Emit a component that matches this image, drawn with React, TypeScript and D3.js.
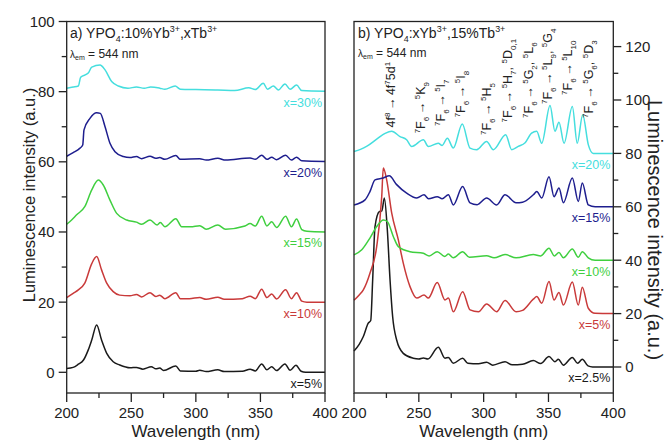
import React from "react";
import * as d3 from "d3";

type P = [number, number];

// ---------- Panel a: YPO4:10%Yb,xTb ----------
const a5: P[] = [[200,1.1],[205,1.4],[209,2.3],[213,3.5],[216.7,6.4],[219.4,9.2],[223.2,13.5],[227,9.2],[231,5.4],[236,3],[241,2.1],[249,1.3],[254,1.4],[259,0.9],[265.5,1.6],[269,1.0],[272,1.2],[275,0.5],[284.5,1.8],[288,0.4],[300,0.3],[303,0.6],[308,0.2],[317,0.7],[322,0.2],[336,0.3],[342,0.9],[346,0.4],[351,2.4],[355,0.7],[358.7,1.6],[362.5,0.5],[369,2.4],[373,0.6],[377.5,2],[381.5,0.3],[385,0],[400,0]];
const a10: P[] = [[200,21.3],[205,22.5],[209,23.5],[214,25.4],[219.4,31],[223.2,33],[227,29.2],[231,25.4],[236,23],[241,22],[249,21.8],[254,22.2],[258,21.5],[264.5,22.7],[269,21.6],[272,22],[276,21],[284.5,22.7],[288,21],[295,21],[303,21.3],[308,20.8],[317,21.4],[322,20.8],[336,21],[342,21.7],[346,21],[351,23.7],[355,21.3],[358.7,22.3],[362.5,20.9],[369.5,23.5],[374,21],[378,22.7],[382,20.3],[386,20],[400,20]];
const a15: P[] = [[200,42.2],[204,43.5],[207.7,44.9],[214,47.2],[219.4,52],[224.5,54.8],[228.3,53.4],[233.5,49.1],[238.7,45.3],[246.5,43.4],[254,42.8],[258,42.2],[264.5,43.4],[270,42],[272.5,42.7],[276,41.5],[284.5,43.8],[289,41.5],[296,41.5],[303,41.8],[308,40.8],[317,42],[323,40.8],[338,41.7],[342,42.4],[346,41.7],[351,44.5],[355,41.7],[358.7,42.9],[362.5,41.3],[369.5,44.5],[374,41.5],[378,43.7],[382,40.7],[386,40.2],[400,40]];
const a20: P[] = [[200,61.6],[205,62.6],[210.3,63.9],[212.4,64.8],[213.4,69.1],[218,72.4],[223.2,74],[226,73.8],[229.7,70],[233.5,65.3],[237.4,62.9],[243.8,61.5],[249,61.2],[254,61.5],[258,60.9],[264.5,61.6],[269,61],[272,61.2],[276,60.7],[284.5,61.8],[288,60.7],[303,60.9],[308,60.5],[317,61],[323,60.5],[342,61.1],[346,60.7],[351,61.9],[355,60.7],[358.7,61.3],[362.5,60.6],[369.5,61.9],[374,60.5],[378,61.3],[382,60.3],[400,60.1]];
const a30: P[] = [[200,81],[205,81.3],[209,81.6],[210.8,84.1],[216.7,85.3],[219.4,87],[225.8,87.6],[229.7,86.2],[234.8,82.9],[240,81.6],[247.4,81],[254,81.3],[260,81],[265,81.3],[272,81],[276,80.7],[284,81.6],[288,80.7],[300,80.6],[317,80.5],[330,80.3],[341,81.1],[346,80.6],[352.2,82.4],[355.5,80.7],[360,81.6],[364,80.5],[369,82.2],[373,80.7],[378,81.9],[382,80.3],[400,80.1]];

// ---------- Panel b: YPO4:xYb,15%Tb ----------
const b25: P[] = [[200,6],[204,8.5],[207.2,11.4],[211,16.4],[212.9,17.4],[214.4,32.6],[216.2,52.6],[219.5,58.2],[221.5,58.5],[223.4,63.3],[225.7,51.4],[227.8,32.6],[229.8,18.9],[232.9,10.1],[238,5.1],[245.7,3.3],[250,3.0],[253.5,3.4],[257,3.0],[265,7.4],[270.2,3.3],[272.8,3.6],[276.6,1.4],[283.8,3.3],[287.8,1.4],[296,1.2],[302.3,1.8],[307,0.7],[316.5,2],[322,0.8],[330,1],[338.3,2.4],[344,1.3],[350.4,3.9],[355,2],[357.6,2.9],[361.5,0.7],[368.4,3.6],[372.5,1.4],[376.1,2.9],[380.5,0.4],[384,0],[400,0]];
const b5: P[] = [[200,25],[204,27],[207.2,28.9],[212.3,35.1],[217.5,45.1],[221.4,63.9],[222.6,74.5],[225.2,70.1],[229.1,57.6],[234.2,47.6],[238,38.9],[243.2,30.1],[248.4,25.8],[254,27],[257.3,25.8],[264.2,31.6],[270.2,25.1],[272.8,25.8],[276.6,20.7],[283.8,28.2],[289.5,21.4],[296,20.7],[302.3,23.6],[310,20.7],[316.5,24.9],[325,20.7],[330,21.2],[338.3,25.4],[341,26.4],[344.8,23.9],[350.4,32],[354.3,25.1],[358.1,27.9],[361.5,23.2],[368.4,31.8],[373,23.2],[376.1,29.9],[380.7,22],[385.9,20.1],[400,20]];
const b10: P[] = [[200,42],[206,43.9],[212.3,48.3],[217.5,52.6],[222.6,55.1],[225.7,54.5],[230.3,48.9],[234.2,45.1],[243.2,43.2],[253.5,42.6],[258,41.6],[264.2,43.2],[270,41.4],[272.8,42.3],[276.6,40.9],[283.8,43.2],[289,41.1],[302.3,41.7],[308,40.9],[316.5,42.1],[325,40.9],[338.3,42.1],[344,41.6],[350.4,44.5],[354.5,41.6],[358.1,42.9],[361.5,40.9],[368.4,44.2],[373,41.1],[376.1,43.2],[380.7,40.9],[386,40],[400,40]];
const b15: P[] = [[200,60.7],[208.5,62.6],[212.3,65.7],[216.2,70.1],[222.6,70.8],[227.2,71.6],[232.9,68.3],[240.6,65.1],[248.4,63.3],[254,64.5],[257.5,63],[264.2,63.8],[268,63],[272.8,64.5],[276.6,60.7],[283.8,67.6],[289.5,61.5],[295,60.8],[302.3,63.3],[310,60.7],[316.5,64.5],[325,61.5],[330,61.7],[338.3,64.5],[341,65.7],[344.8,63.3],[350.4,71.3],[354.3,63.8],[358.1,67],[361.5,61.5],[368.4,70.8],[373,62],[376.1,68.9],[380.7,60.7],[386,60],[400,60]];
const b20: P[] = [[200,80.7],[205,81.5],[210,82.7],[218,85.5],[224,87.5],[229.1,88.3],[235.5,86.3],[240.6,85.1],[244.5,82.6],[253.5,85.1],[257.3,82.6],[265,83.8],[268,83],[272,85.7],[276.6,82],[283.5,91],[289.5,82],[294.6,81.4],[302.3,84.5],[307.5,81.4],[317,87],[321.6,81.4],[326.7,82.6],[332,84],[337,87.6],[340.9,88.3],[344.8,83.8],[351.2,97.9],[355,88.3],[358.1,91.7],[362,83.8],[368.4,97.6],[372.2,83.8],[376.4,94.5],[380.7,83.3],[384.6,80],[400,80]];

const leftSeries = [a5, a10, a15, a20, a30];
const leftLabels = ["x=5%", "x=10%", "x=15%", "x=20%", "x=30%"];
const leftBase = [0, 20, 40, 60, 80];
const rightSeries = [b25, b5, b10, b15, b20];
const rightLabels = ["x=2.5%", "x=5%", "x=10%", "x=15%", "x=20%"];
const rightBase = [0, 20, 40, 60, 80];
const seriesColors = ["#1a1a1a", "#c93a3a", "#3fcf3f", "#1e1e8e", "#45dede"];

const xTicks = [200, 250, 300, 350, 400];
const xMinor = [225, 275, 325, 375];
const leftYTicks = [0, 20, 40, 60, 80, 100];
const leftYMinor = [10, 30, 50, 70, 90];
const rightYTicks = [0, 20, 40, 60, 80, 100, 120];
const rightYMinor = [10, 30, 50, 70, 90, 110];

const annoTexts = [
  "4f^{8}\u2009→\u20094f^{7}5d^{1}",
  "^{7}F_{6}\u2009→\u2009^{5}K_{9}",
  "^{7}F_{6}\u2009→\u2009^{5}I_{7}",
  "^{7}F_{6}\u2009→\u2009^{5}I_{8}",
  "^{7}F_{6}\u2009→\u2009^{5}H_{5}",
  "^{7}F_{6}\u2009→\u2009^{5}H_{7}, ^{5}D_{0,1}",
  "^{7}F_{6}\u2009→\u2009^{5}G_{2}, ^{5}L_{6}",
  "^{7}F_{6}\u2009→\u2009^{5}L_{9}, ^{5}G_{4}",
  "^{7}F_{6}\u2009→\u2009^{5}L_{10}",
  "^{7}F_{6}\u2009→\u2009^{5}G_{6}, ^{5}D_{3}",
];
const annoWl = [231.6, 254.8, 270.2, 285.6, 305.7, 321.9, 338.1, 352.7, 368.2, 384.3];
const annoVal = [89.7, 87.5, 90.3, 93.5, 86.9, 91.6, 93.3, 98.5, 101.9, 93.3];

const FONT = "Arial, 'Liberation Sans', Helvetica, sans-serif";

const xL = d3.scaleLinear().domain([200, 400]).range([66.7, 325]);
const yL = d3.scaleLinear().domain([-5.9, 100]).range([393, 21.5]);
const xR = d3.scaleLinear().domain([200, 400]).range([354, 613.3]);
const yR = d3.scaleLinear().domain([-9.74, 129.4]).range([393, 21.5]);

function parseRich(s: string) {
  const re = /\^\{([^}]*)\}|_\{([^}]*)\}|([^^_]+)/g;
  const out: { t: string; k: string }[] = [];
  let m: RegExpExecArray | null;
  while ((m = re.exec(s))) {
    if (m[1] !== undefined) out.push({ t: m[1], k: "u" });
    else if (m[2] !== undefined) out.push({ t: m[2], k: "d" });
    else out.push({ t: m[3], k: "n" });
  }
  return out;
}

function Rich({ s, fs }: { s: string; fs: number }) {
  let cur = 0;
  const parts = parseRich(s);
  return (
    <>
      {parts.map((p, i) => {
        const target = p.k === "u" ? -0.4 * fs : p.k === "d" ? 0.3 * fs : 0;
        const dy = target - cur;
        cur = target;
        return (
          <tspan key={i} dy={dy} fontSize={p.k === "n" ? fs : fs * 0.64}>
            {p.t}
          </tspan>
        );
      })}
    </>
  );
}

function Panel({ x, y, series, labels, base, side, yTicks, yMinor }: any) {
  const line = d3
    .line<P>()
    .x((d) => x(d[0]))
    .y((d) => y(d[1]))
    .curve(d3.curveMonotoneX);
  const [x0, x1] = x.range();
  const [y1, y0] = y.range();
  const axisX = side === "left" ? x0 : x1;
  const dir = side === "left" ? -1 : 1;
  return (
    <g>
      {series.map((s: P[], i: number) => (
        <path key={i} d={line(s) || ""} fill="none" stroke={seriesColors[i]} strokeWidth={1.5} strokeLinejoin="round" />
      ))}
      {labels.map((l: string, i: number) => (
        <text key={"l" + i} x={x1 - 3} y={y(base[i]) + 15.5} textAnchor="end" fontSize={12.5} fill={seriesColors[i]} fontFamily={FONT}>
          {l}
        </text>
      ))}
      <rect x={x0} y={y0} width={x1 - x0} height={y1 - y0} fill="none" stroke="#222" strokeWidth={1.3} />
      {xTicks.map((t) => (
        <g key={"xt" + t}>
          <line x1={x(t)} x2={x(t)} y1={y1} y2={y1 + 9} stroke="#222" strokeWidth={1.3} />
          <text x={x(t)} y={418} textAnchor="middle" fontSize={15} fontFamily={FONT} fill="#222">{t}</text>
        </g>
      ))}
      {xMinor.map((t) => (
        <line key={"xm" + t} x1={x(t)} x2={x(t)} y1={y1} y2={y1 + 5} stroke="#222" strokeWidth={1.3} />
      ))}
      {yTicks.map((t: number) => (
        <g key={"yt" + t}>
          <line x1={axisX} x2={axisX + dir * 8} y1={y(t)} y2={y(t)} stroke="#222" strokeWidth={1.3} />
          <text x={axisX + dir * 12} y={y(t)} dy="0.36em" textAnchor={side === "left" ? "end" : "start"} fontSize={15} fontFamily={FONT} fill="#222">{t}</text>
        </g>
      ))}
      {yMinor.map((t: number) => (
        <line key={"ym" + t} x1={axisX} x2={axisX + dir * 5} y1={y(t)} y2={y(t)} stroke="#222" strokeWidth={1.3} />
      ))}
      <text x={(x0 + x1) / 2} y={437} textAnchor="middle" fontSize={17} fontFamily={FONT} fill="#222">Wavelength (nm)</text>
    </g>
  );
}

export default function App() {
  return (
    <svg width={665} height={440} viewBox="0 0 665 440" style={{ position: "absolute", left: 0, top: 0, background: "#fff", display: "block" }}>
      <rect x={0} y={0} width={665} height={440} fill="#fff" />
      <Panel x={xL} y={yL} series={leftSeries} labels={leftLabels} base={leftBase} side="left" yTicks={leftYTicks} yMinor={leftYMinor} />
      <Panel x={xR} y={yR} series={rightSeries} labels={rightLabels} base={rightBase} side="right" yTicks={rightYTicks} yMinor={rightYMinor} />

      <text x={70} y={38} fontSize={14} fontFamily={FONT} fill="#222" style={{ whiteSpace: "pre" }}>
        <Rich s="a) YPO_{4}:10%Yb^{3+},xTb^{3+}" fs={14} />
      </text>
      <text x={70} y={58} fontSize={12} fontFamily={FONT} fill="#222" style={{ whiteSpace: "pre" }}>
        <tspan fontSize={10}>λ</tspan><tspan fontSize={7} dy={2}>em</tspan><tspan dy={-2}> = 544 nm</tspan>
      </text>
      <text x={358} y={38} fontSize={14} fontFamily={FONT} fill="#222" style={{ whiteSpace: "pre" }}>
        <Rich s="b) YPO_{4}:xYb^{3+},15%Tb^{3+}" fs={14} />
      </text>
      <text x={358} y={57} fontSize={12} fontFamily={FONT} fill="#222" style={{ whiteSpace: "pre" }}>
        <tspan fontSize={10}>λ</tspan><tspan fontSize={7} dy={2}>em</tspan><tspan dy={-2}> = 544 nm</tspan>
      </text>

      {annoTexts.map((s, i) => (
        <text key={"a" + i} transform={`translate(${xR(annoWl[i])},${yR(annoVal[i])}) rotate(-90)`} fontSize={12.5} fontFamily={FONT} fill="#222" style={{ whiteSpace: "pre" }}>
          <Rich s={s} fs={12.5} />
        </text>
      ))}

      <text transform="translate(35,195) rotate(-90)" textAnchor="middle" fontSize={16.5} fontFamily={FONT} fill="#222">Luminescence intensity (a.u.)</text>
      <text transform="translate(648,230) rotate(90)" textAnchor="middle" fontSize={20} fontFamily={FONT} fill="#222">Luminescence intensity (a.u.)</text>
    </svg>
  );
}
